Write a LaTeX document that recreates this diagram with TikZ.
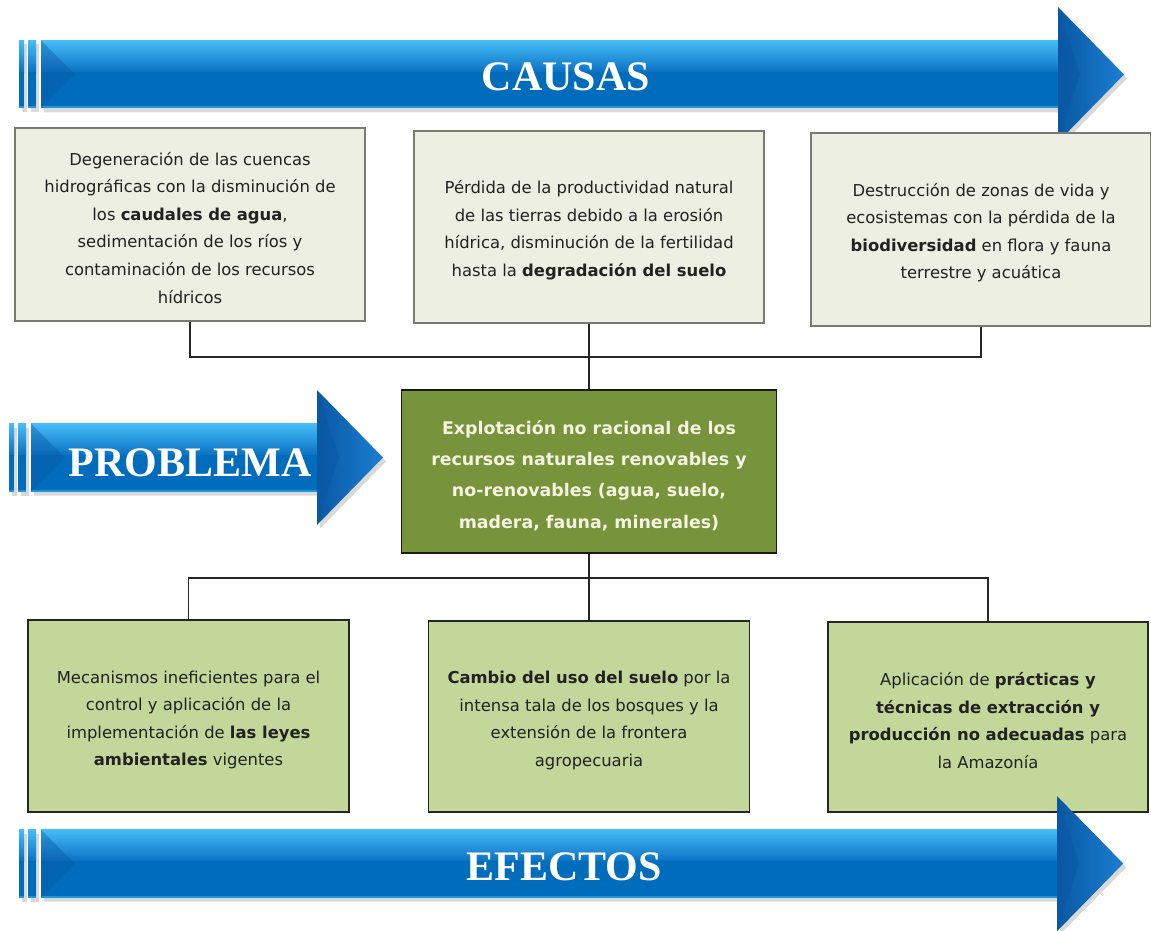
\documentclass[tikz,border=0pt]{standalone}
\usepackage{fontspec}
\newfontfamily\boxfont{DejaVu Sans}
\newfontfamily\titlefont{Liberation Serif}
\definecolor{arrowTop}{HTML}{45BDF7}
\definecolor{arrowMid}{HTML}{0A70C2}
\definecolor{arrowBot}{HTML}{006CBC}
\definecolor{headDark}{HTML}{0A58A4}
\definecolor{headLight}{HTML}{1C7ED2}
\definecolor{causeFill}{HTML}{EDEFE2}
\definecolor{causeLine}{HTML}{7A7A72}
\definecolor{effectFill}{HTML}{C4D79B}
\definecolor{probFill}{HTML}{77933C}
\definecolor{probText}{HTML}{F4F4E0}
\definecolor{boxText}{HTML}{222222}
\newcommand{\topgap}[1]{\rule{0pt}{#1}}
\newcommand{\shaftpiece}[2]{%
  \shade[top color=arrowTop, bottom color=arrowMid] (#1,-34) rectangle (#2,-2);
  \fill[arrowBot] (#1,-2.5) rectangle (#2,34);
  \fill[arrowTop,opacity=0.5] (#1,32) rectangle (#2,34);}
\newcommand{\bluearrow}[3]{%
  \begin{scope}[shift={(0,#3)}]
    \fill[black,opacity=0.15] ({#1+3},-30) rectangle ({#1+8},38);
    \fill[black,opacity=0.15] ({#1+12},-30) rectangle ({#1+20},38);
    \fill[black,opacity=0.15] ({#1+25},-30) -- ({#2+3},-30) -- ({#2+3},-63) -- ({#2+69},4) -- ({#2+3},71) -- ({#2+3},38) -- ({#1+25},38) -- cycle;
    \shaftpiece{#1}{{#1+5}}
    \shaftpiece{{#1+9}}{{#1+17}}
    \shaftpiece{{#1+22}}{#2}
    \fill[headDark,opacity=0.4] ({#1+22},-34) -- ({#1+56},0) -- ({#1+22},34) -- cycle;
    \shade[left color=headDark, right color=headLight] (#2,-67.5) -- ({#2+66},0) -- (#2,67.5) -- cycle;
    \fill[headDark,opacity=0.5] (#2,-67.5) -- ({#2+22},0) -- (#2,67.5) -- cycle;
  \end{scope}}
\tikzset{
  causebox/.style={draw=causeLine, line width=1.6pt, fill=causeFill, align=center,
    text=boxText, font={\boxfont\fontsize{16.4}{27.6}\selectfont}, inner sep=0pt},
  effectbox/.style={draw=black!85, line width=1.6pt, fill=effectFill, align=center,
    text=boxText, font={\boxfont\fontsize{16.4}{27.6}\selectfont}, inner sep=0pt},
  probbox/.style={draw=black!90, line width=1.8pt, fill=probFill, align=center,
    text=probText, font={\boxfont\bfseries\fontsize{17.4}{31.3}\selectfont}, inner sep=0pt},
  titletext/.style={text=white, font={\titlefont\bfseries\fontsize{42}{46}\selectfont}, inner sep=0pt},
  conn/.style={draw=black!85, line width=1.4pt}
}
\begin{document}
\begin{tikzpicture}[x=1pt,y=-1pt]
\useasboundingbox (0,0) rectangle (1151,931);
\fill[white] (0,0) rectangle (1151,931);

% arrows
\bluearrow{19}{1058}{74.5}
\bluearrow{9}{317}{457.5}
\bluearrow{19}{1057}{863.5}
\node[titletext] (causas) at (566,77) {CAUSAS};
\node[titletext] (problema) at (190,463) {PROBLEMA};
\node[titletext] (efectos) at (564,867) {EFECTOS};

% cause boxes
\node[causebox, minimum width=350pt, minimum height=193pt] (c1) at (190,224.5)
  {\topgap{19.5pt}Degeneración de las cuencas\\ hidrográficas con la disminución de\\ los \textbf{caudales de agua},\\ sedimentación de los ríos y\\ contaminación de los recursos\\ hídricos};
\node[causebox, minimum width=350pt, minimum height=192pt] (c2) at (589,227)
  {\topgap{19.5pt}Pérdida de la productividad natural\\ de las tierras debido a la erosión\\ hídrica, disminución de la fertilidad\\ hasta la \textbf{degradación del suelo}};
\node[causebox, minimum width=340pt, minimum height=193pt] (c3) at (981,229.5)
  {\topgap{19.5pt}Destrucción de zonas de vida y\\ ecosistemas con la pérdida de la\\ \textbf{biodiversidad} en flora y fauna\\ terrestre y acuática};

% problem box
\node[probbox, minimum width=375pt, minimum height=163pt] (prob) at (589,471.5)
  {\topgap{22pt}Explotación no racional de los\\ recursos naturales renovables y\\ no-renovables (agua, suelo,\\ madera, fauna, minerales)};

% effect boxes
\node[effectbox, minimum width=321pt, minimum height=192pt] (e1) at (188.5,716)
  {\topgap{20.5pt}Mecanismos ineficientes para el\\ control y aplicación de la\\ implementación de \textbf{las leyes}\\ \textbf{ambientales} vigentes};
\node[effectbox, minimum width=321pt, minimum height=191pt] (e2) at (589,716.5)
  {\topgap{20.5pt}\textbf{Cambio del uso del suelo} por la\\ intensa tala de los bosques y la\\ extensión de la frontera\\ agropecuaria};
\node[effectbox, minimum width=320pt, minimum height=190pt] (e3) at (988,717)
  {\topgap{20.5pt}Aplicación de \textbf{prácticas y}\\ \textbf{técnicas de extracción y}\\ \textbf{producción no adecuadas} para\\ la Amazonía};

% junctions
\coordinate (jc) at (589,357);
\coordinate (je) at (589,578);

% connectors
\draw[conn] (c1.south) -- (c1.south |- jc) -- (c3.south |- jc) -- (c3.south);
\draw[conn] (c2.south) -- (prob.north);
\draw[conn] (e1.north) -- (e1.north |- je) -- (e3.north |- je) -- (e3.north);
\draw[conn] (prob.south) -- (e2.north);

% bottom arrow head drawn over effect box 3 (overlaps in reference)
\begin{scope}[shift={(0,863.5)}]
  \shade[left color=headDark, right color=headLight] (1057,-67.5) -- (1123,0) -- (1057,67.5) -- cycle;
  \fill[headDark,opacity=0.5] (1057,-67.5) -- (1079,0) -- (1057,67.5) -- cycle;
\end{scope}
\end{tikzpicture}
\end{document}
